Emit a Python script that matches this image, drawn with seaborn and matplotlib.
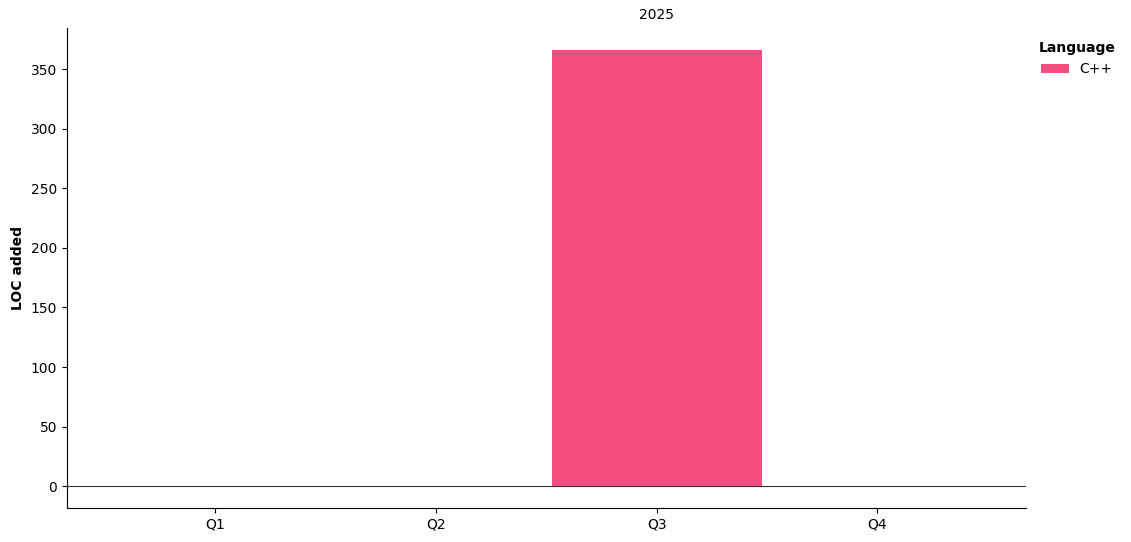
import pandas as pd
import matplotlib
matplotlib.use('Agg')
import matplotlib.pyplot as plt
import seaborn as sns

quarters = ['Q1', 'Q2', 'Q3', 'Q4']
loc_added = [0, 0, 366, 0]
language = ['C++', 'C++', 'C++', 'C++']
year_label = '2025'
bar_color = '#F34E7E'

df = pd.DataFrame({'Quarter': quarters, 'LOC added': loc_added, 'Language': language})

plt.rcParams['font.family'] = ['DejaVu Sans']

fig, ax = plt.subplots(figsize=(11.31, 5.42), dpi=100)
fig.subplots_adjust(left=0.0592, right=0.907, bottom=0.0627, top=0.948)

sns.barplot(data=df, x='Quarter', y='LOC added', hue='Language',
            palette=[bar_color], width=0.95, ax=ax, dodge=False,
            saturation=1, linewidth=0)

ax.axhline(0, color='#333333', linewidth=0.8)
ax.set_xlim(-0.6725, 3.6725)
ax.set_ylim(-18.3, 384.3)
ax.set_xlabel('')
ax.set_ylabel('LOC added', fontweight='bold', fontsize=10)
ax.tick_params(labelsize=10)
sns.despine(ax=ax)

# year label sits above the quarters that have data
active = [i for i, v in enumerate(loc_added) if v > 0]
year_x = sum(active) / len(active)
ax.annotate(year_label, xy=(year_x, 1.0), xycoords=('data', 'axes fraction'),
            xytext=(0, 4.5), textcoords='offset points', ha='center', va='bottom',
            fontsize=10)

ax.legend(title='Language', loc='upper left', bbox_to_anchor=(1.0, 0.9985),
          frameon=False, title_fontproperties={'weight': 'bold', 'size': 10},
          fontsize=10)

fig.savefig('out.png', dpi=100)
